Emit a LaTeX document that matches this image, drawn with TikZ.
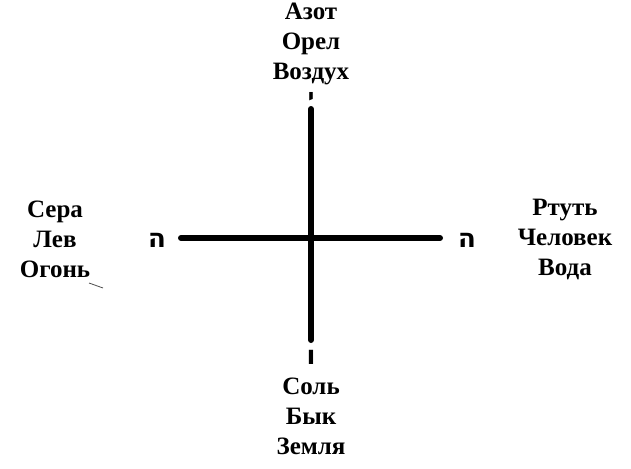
\documentclass[tikz,border=0pt]{standalone}
\usepackage{fontspec}
\setmainfont{Liberation Serif}[BoldFont={Liberation Serif Bold}]
\newfontfamily\hebfont[Script=Hebrew,BoldFont={DejaVu Sans Bold}]{DejaVu Sans}
\TeXXeTstate=1
\begin{document}
\begin{tikzpicture}[x=1pt,y=-1pt]
\tikzset{
  lbl/.style={align=center,inner sep=0pt,font=\fontsize{25}{30}\selectfont\bfseries},
  heb/.style={inner sep=0pt,font=\fontsize{26}{26}\selectfont\hebfont\bfseries},
  bar/.style={line width=6pt,line cap=round}
}
\useasboundingbox[fill=white] (0,0) rectangle (631,468);
\node[lbl] (top) at (311,44) {Азот\\Орел\\Воздух};
\node[lbl] (left) at (55,239) {Сера\\Лев\\Огонь};
\node[lbl] (right) at (565,239) {Ртуть\\Человек\\Вода};
\node[lbl] (bottom) at (311,416) {Соль\\Бык\\Земля};
\node[heb,font=\fontsize{22}{22}\selectfont\hebfont\bfseries] (yod) at (311,98) {\beginR י\endR};
\node[heb] (vav) at (311,357) {\beginR ו\endR};
\node[heb] (heL) at (157,240) {\beginR ה\endR};
\node[heb] (heR) at (467,240) {\beginR ה\endR};
\coordinate (vt) at (311,109);
\coordinate (vb) at (311,340);
\coordinate (hl) at (181,238);
\coordinate (hr) at (440,238);
\draw[bar] (vt) -- (vb);
\draw[bar] (hl) -- (hr);
\coordinate (m1) at (89,283);
\coordinate (m2) at (103,288);
\draw[line width=0.8pt,black!70] (m1) -- (m2);
\end{tikzpicture}
\end{document}
